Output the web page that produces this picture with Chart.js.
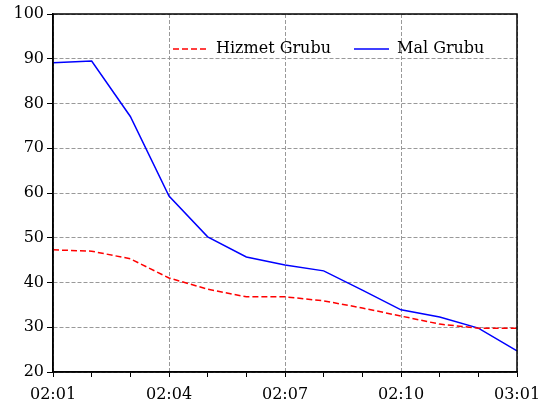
<!DOCTYPE html>
<html>
<head>
<meta charset="utf-8">
<script src="https://cdn.jsdelivr.net/npm/chart.js@4/dist/chart.umd.min.js"></script>
<style>
  html, body { margin: 0; padding: 0; background: #fff; }
  #wrap { width: 540px; height: 409px; }
</style>
</head>
<body>
<div id="wrap"><canvas id="chart" width="540" height="409"></canvas></div>
<script>
const times = ["02:01", "02:02", "02:03", "02:04", "02:05", "02:06", "02:07",
               "02:08", "02:09", "02:10", "02:11", "02:12", "03:01"];
const hizmetGrubu = [47.3, 47.0, 45.3, 41.0, 38.5, 36.8, 36.8, 35.9, 34.3, 32.5, 30.7, 29.8, 29.8];
const malGrubu = [89.1, 89.5, 77.1, 59.3, 50.2, 45.7, 43.9, 42.6, 38.3, 33.9, 32.3, 29.8, 24.7];
const shownLabels = ["02:01", "02:04", "02:07", "02:10", "03:01"];

const serif = "'DejaVu Serif', 'Liberation Serif', serif";

// frame + legend drawn inside the plot area
const frameAndLegend = {
  id: "frameAndLegend",
  afterDraw(chart) {
    const { ctx, chartArea: a } = chart;
    ctx.save();
    ctx.strokeStyle = "#000";
    ctx.lineWidth = 1.5;
    ctx.strokeRect(a.left, a.top, a.right - a.left, a.bottom - a.top);

    ctx.font = "16px " + serif;
    ctx.textBaseline = "middle";
    ctx.fillStyle = "#000";
    const y = 49;
    chart.data.datasets.forEach((ds, i) => {
      const x0 = i === 0 ? 173 : 354;
      ctx.beginPath();
      ctx.strokeStyle = ds.borderColor;
      ctx.lineWidth = 1.5;
      ctx.setLineDash(ds.borderDash || []);
      ctx.moveTo(x0, y);
      ctx.lineTo(x0 + 35, y);
      ctx.stroke();
      ctx.setLineDash([]);
      ctx.fillText(ds.label, x0 + 43, y);
    });
    ctx.restore();
  }
};

new Chart(document.getElementById("chart"), {
  type: "line",
  data: {
    labels: times,
    datasets: [
      {
        label: "Hizmet Grubu",
        data: hizmetGrubu,
        borderColor: "#ff0000",
        borderWidth: 1.5,
        borderDash: [6, 3],
        pointRadius: 0,
        tension: 0
      },
      {
        label: "Mal Grubu",
        data: malGrubu,
        borderColor: "#0000ff",
        borderWidth: 1.5,
        pointRadius: 0,
        tension: 0
      }
    ]
  },
  options: {
    responsive: false,
    animation: false,
    layout: { padding: { top: 14, right: 23, left: 0, bottom: 0 } },
    plugins: {
      legend: { display: false },
      tooltip: { enabled: false }
    },
    scales: {
      x: {
        offset: false,
        afterFit(scale) {
          scale.height = 37;
          scale.paddingLeft = 0;
          scale.paddingRight = 0;
        },
        border: { display: true, color: "#000", width: 1.5, dash: [4, 2] },
        grid: {
          color: ctx => (ctx.tick && shownLabels.includes(times[ctx.index]) ? "#999" : "rgba(0,0,0,0)"),
          tickColor: "#000",
          tickLength: 5,
          lineWidth: 1,
          tickWidth: 1
        },
        ticks: {
          autoSkip: false,
          maxRotation: 0,
          padding: 8,
          color: "#000",
          font: { family: serif, size: 16 },
          callback(value, index) {
            const l = times[index];
            return shownLabels.includes(l) ? l : "";
          }
        }
      },
      y: {
        min: 20,
        max: 100,
        afterFit(scale) {
          scale.width = 53;
          scale.paddingTop = 0;
          scale.paddingBottom = 0;
        },
        border: { display: true, color: "#000", width: 1.5, dash: [4, 2] },
        grid: {
          color: "#999",
          tickColor: "#000",
          tickLength: 6,
          lineWidth: 1
        },
        ticks: {
          stepSize: 10,
          padding: 3,
          color: "#000",
          font: { family: serif, size: 16 }
        }
      }
    }
  },
  plugins: [frameAndLegend]
});
</script>
</body>
</html>
